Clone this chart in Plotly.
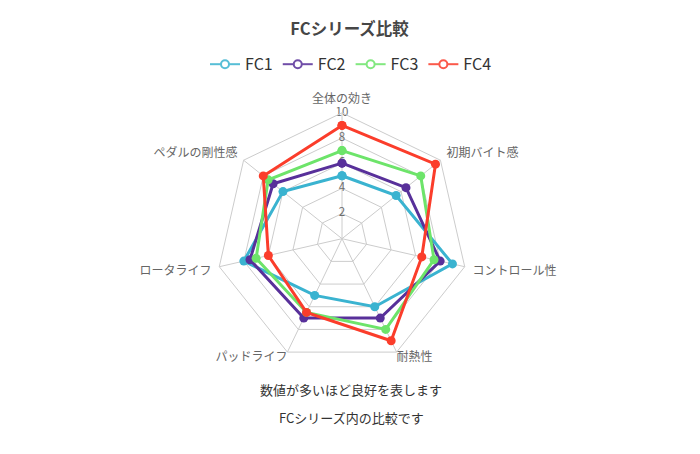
import plotly.graph_objects as go

categories = ["全体の効き", "初期バイト感", "コントロール性", "耐熱性", "パッドライフ", "ロータライフ", "ペダルの剛性感"]
series_names = ["FC1", "FC2", "FC3", "FC4"]
fc1 = [5, 5.5, 9, 6, 5, 8, 6]
fc2 = [6, 6.5, 8, 7, 7, 7.5, 7]
fc3 = [7, 8, 7.5, 8, 6.5, 7, 7.5]
fc4 = [9, 9.5, 6.5, 9, 6.5, 6, 8]
radial_ticks = [2, 4, 6, 8, 10]
notes = ["数値が多いほど良好を表します", "FCシリーズ内の比較です"]

colors = ["#3ab3d0", "#58309a", "#6de46a", "#fb3d2b"]
FONT = "Noto Sans CJK JP"
R_MAX = 10
# plotly drops the bottom tick labels too far from the ring, so those two are drawn as text
bottom_pos = {"耐熱性": "bottom right", "パッドライフ": "bottom left"}

fig = go.Figure()
bottom = [c for c in categories if c in bottom_pos]
fig.add_trace(go.Scatterpolar(
    r=[R_MAX] * len(bottom), theta=bottom, mode="text", text=bottom,
    textposition=[bottom_pos[c] for c in bottom], textfont=dict(color="#666666", size=12, family=FONT),
    showlegend=False, hoverinfo="skip", cliponaxis=False))
# radial value labels along the top spoke, drawn first so markers sit over them
fig.add_trace(go.Scatterpolar(
    r=radial_ticks, theta=[categories[0]] * len(radial_ticks), mode="text",
    text=[str(t) for t in radial_ticks], textfont=dict(color="#6e6e6e", size=11.5, family=FONT),
    showlegend=False, hoverinfo="skip", cliponaxis=False))

for name, vals, c in zip(series_names, [fc1, fc2, fc3, fc4], colors):
    fig.add_trace(go.Scatterpolar(
        r=vals + vals[:1], theta=categories + categories[:1], mode="lines+markers", name=name,
        line=dict(color=c, width=3), marker=dict(size=9, color=c),
        showlegend=False, legendgroup=name))
    # legend entry with a hollow marker like the original
    fig.add_trace(go.Scatterpolar(
        r=[None], theta=[categories[0]], mode="lines+markers", name=name, legendgroup=name,
        line=dict(color=c, width=2), opacity=0.85,
        marker=dict(size=8, color="white", line=dict(color=c, width=2))))

for i, txt in enumerate(notes):
    fig.add_annotation(text=txt, x=0.49, y=[0.135, 0.073][i], xref="paper", yref="paper",
                       showarrow=False, font=dict(size=13, color="#333333", family=FONT))

fig.update_layout(
    width=700, height=454,
    margin=dict(l=0, r=0, t=0, b=0),
    paper_bgcolor="white",
    font=dict(family=FONT, color="#666666"),
    title=dict(text="<b>FCシリーズ比較</b>", x=0.488, xanchor="center", y=0.953, yanchor="middle",
               font=dict(size=16.5, color="#464646", family=FONT)),
    legend=dict(orientation="h", x=0.49, xanchor="center", y=0.876, yanchor="middle",
                font=dict(size=16, color="#333333", family=FONT), itemwidth=30),
    polar=dict(
        domain=dict(x=[0.2963, 0.658], y=[0.2146, 0.7691]),
        bgcolor="white",
        gridshape="linear",
        radialaxis=dict(range=[0, R_MAX], tickvals=radial_ticks, showticklabels=False, ticks="",
                        showline=False, gridcolor="#cccccc", gridwidth=1),
        angularaxis=dict(direction="clockwise", rotation=90, linecolor="#cccccc",
                         gridcolor="#cccccc", ticks="outside", ticklen=5, tickcolor="rgba(0,0,0,0)",
                         categoryorder="array", categoryarray=categories,
                         tickmode="array", tickvals=categories,
                         ticktext=["" if c in bottom_pos else c for c in categories],
                         tickfont=dict(size=12, color="#666666", family=FONT)),
    ),
)

fig.write_html("out.html")
